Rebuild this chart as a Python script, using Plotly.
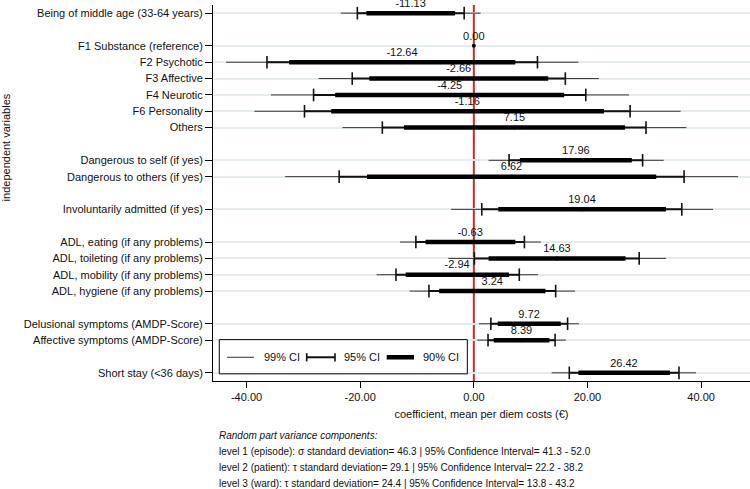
import plotly.graph_objects as go

# ---------------- data ----------------
variables = [
    "Being of middle age (33-64 years)",
    "F1 Substance (reference)",
    "F2 Psychotic",
    "F3 Affective",
    "F4 Neurotic",
    "F6 Personality",
    "Others",
    "Dangerous to self (if yes)",
    "Dangerous to others (if yes)",
    "Involuntarily admitted (if yes)",
    "ADL, eating (if any problems)",
    "ADL, toileting (if any problems)",
    "ADL, mobility (if any problems)",
    "ADL, hygiene (if any problems)",
    "Delusional symptoms (AMDP-Score)",
    "Affective symptoms (AMDP-Score)",
    "Short stay (<36 days)",
]
group_sizes = [1, 6, 2, 1, 4, 2, 1]

coef = [-11.13, 0.00, -12.64, -2.66, -4.25, -1.16, 7.15, 17.96, 6.62, 19.04,
        -0.63, 14.63, -2.94, 3.24, 9.72, 8.39, 26.42]

ci99_lo = [-23.4, None, -43.6, -27.3, -35.7, -38.6, -23.1, 2.6, -33.2, -4.0,
           -13.0, -4.5, -17.1, -11.3, 0.9, 0.6, 13.7]
ci99_hi = [1.2, None, 18.4, 22.0, 27.3, 36.4, 37.4, 33.4, 46.5, 42.1,
           11.8, 33.8, 11.3, 17.8, 18.5, 16.2, 39.1]
ci95_lo = [-20.5, None, -36.4, -21.4, -28.2, -29.8, -16.1, 6.2, -23.7, 1.4,
           -10.2, 0.1, -13.7, -7.9, 3.0, 2.5, 16.8]
ci95_hi = [-1.7, None, 11.2, 16.1, 19.7, 27.5, 30.3, 29.7, 37.0, 36.6,
           8.9, 29.1, 8.0, 14.4, 16.5, 14.3, 36.1]
ci90_lo = [-18.9, None, -32.5, -18.4, -24.4, -25.1, -12.3, 8.1, -18.8, 4.3,
           -8.5, 2.6, -12.0, -6.1, 4.2, 3.5, 18.4]
ci90_hi = [-3.3, None, 7.3, 13.1, 15.9, 22.9, 26.6, 27.8, 32.1, 33.8,
           7.3, 26.7, 6.2, 12.6, 15.3, 13.3, 34.5]

x_ticks = [-40, -20, 0, 20, 40]
legend_labels = ["99% CI", "95% CI", "90% CI"]
x_title = "coefficient, mean per diem costs (€)"
y_title = "independent variables"
footnotes = [
    "<i>Random part variance components:</i>",
    "level 1 (episode): σ standard deviation= 46.3 | 95% Confidence Interval= 41.3 - 52.0",
    "level 2 (patient): τ standard deviation= 29.1 | 95% Confidence Interval= 22.2 - 38.2",
    "level 3 (ward): τ standard deviation= 24.4 | 95% Confidence Interval= 13.8 - 43.2",
]

# ---------------- row positions (groups separated by one empty row) ----------------
ypos = []
p = 0
for g in group_sizes:
    for _ in range(g):
        ypos.append(p)
        p += 1
    p += 1


def segs(lo, hi):
    xs, ys = [], []
    for a, b, y in zip(lo, hi, ypos):
        if a is None:
            continue
        xs += [a, b, None]
        ys += [y, y, None]
    return xs, ys


fig = go.Figure()

x99, y99 = segs(ci99_lo, ci99_hi)
fig.add_trace(go.Scatter(x=x99, y=y99, mode="lines",
                         line=dict(color="#333333", width=1), hoverinfo="skip"))
x95, y95 = segs(ci95_lo, ci95_hi)
fig.add_trace(go.Scatter(x=x95, y=y95, mode="lines",
                         line=dict(color="#111111", width=2), hoverinfo="skip"))
cap_x, cap_y = [], []
for a, b, y in zip(ci95_lo, ci95_hi, ypos):
    if a is None:
        continue
    cap_x += [a, b]
    cap_y += [y, y]
fig.add_trace(go.Scatter(x=cap_x, y=cap_y, mode="markers",
                         marker=dict(symbol="line-ns", size=9,
                                     line=dict(color="#111111", width=1.6)),
                         hoverinfo="skip"))
x90, y90 = segs(ci90_lo, ci90_hi)
fig.add_trace(go.Scatter(x=x90, y=y90, mode="lines",
                         line=dict(color="#000000", width=4.5), hoverinfo="skip"))
fig.add_trace(go.Scatter(x=coef, y=ypos, mode="markers+text",
                         text=[f"{v:.2f}" for v in coef],
                         textposition="top center", cliponaxis=False,
                         textfont=dict(size=11, color="#111111"),
                         marker=dict(color="#000000", size=4)))

FONT = "Liberation Sans, Arial, Helvetica, sans-serif"

fig.update_layout(
    width=750, height=489,
    margin=dict(l=213, r=0, t=4.5, b=107.5),
    paper_bgcolor="white", plot_bgcolor="white",
    showlegend=False,
    font=dict(family=FONT, size=11, color="#111111"),
    xaxis=dict(range=[-45.9, 48.6], tickvals=x_ticks,
               ticktext=[f"{v:.2f}" for v in x_ticks],
               showgrid=False, zeroline=False,
               showline=True, linecolor="#000000", linewidth=1,
               ticks="outside", ticklen=6, tickcolor="#000000",
               tickfont=dict(size=11),
               title=dict(text=x_title, font=dict(size=11), standoff=8)),
    yaxis=dict(range=[22.5, -0.5], tickvals=ypos, ticktext=variables,
               showgrid=True, gridcolor="#e5ecef", gridwidth=2,
               zeroline=False, showline=True, linecolor="#000000", linewidth=1,
               ticks="outside", ticklen=7, tickcolor="#000000",
               tickfont=dict(size=11)),
)

# red reference line at 0
fig.add_shape(type="line", x0=0, x1=0, y0=0, y1=1, xref="x", yref="paper",
              line=dict(color="#cc2a2a", width=2), layer="below")

# y axis title
fig.add_annotation(text=y_title, x=-0.385, y=0.622, xref="paper", yref="paper",
                   xanchor="center", yanchor="middle",
                   textangle=-90, showarrow=False, font=dict(size=11))

# footnotes
foot_y = [-0.1438, -0.187, -0.2294, -0.2719]
for t, yy in zip(footnotes, foot_y):
    fig.add_annotation(text=t, x=0.007, y=yy, xref="paper", yref="paper",
                       xanchor="left", yanchor="middle", showarrow=False,
                       font=dict(size=10))

# custom legend box
fig.add_shape(type="rect", x0=0.0117, x1=0.4736, y0=0.0191, y1=0.110,
              xref="paper", yref="paper", fillcolor="white",
              line=dict(color="#000000", width=1), layer="above")
ly = 0.0631
fig.add_shape(type="line", x0=0.0261, x1=0.0764, y0=ly, y1=ly, xref="paper", yref="paper",
              line=dict(color="#333333", width=1), layer="above")
fig.add_shape(type="line", x0=0.1745, x1=0.2272, y0=ly, y1=ly, xref="paper", yref="paper",
              line=dict(color="#111111", width=2), layer="above")
for xx in (0.1745, 0.2272):
    fig.add_shape(type="line", x0=xx, x1=xx, y0=ly - 0.011, y1=ly + 0.011,
                  xref="paper", yref="paper",
                  line=dict(color="#111111", width=1.6), layer="above")
fig.add_shape(type="line", x0=0.3235, x1=0.3743, y0=ly, y1=ly, xref="paper", yref="paper",
              line=dict(color="#000000", width=4.5), layer="above")
for lab, xx in zip(legend_labels, [0.0907, 0.2397, 0.3868]):
    fig.add_annotation(text=lab, x=xx, y=ly, xref="paper", yref="paper",
                       xanchor="left", yanchor="middle", showarrow=False,
                       font=dict(size=11))

fig.write_html("out.html", config={"displayModeBar": False},
               post_script="document.body.style.margin='0';document.body.style.overflow='hidden';")
